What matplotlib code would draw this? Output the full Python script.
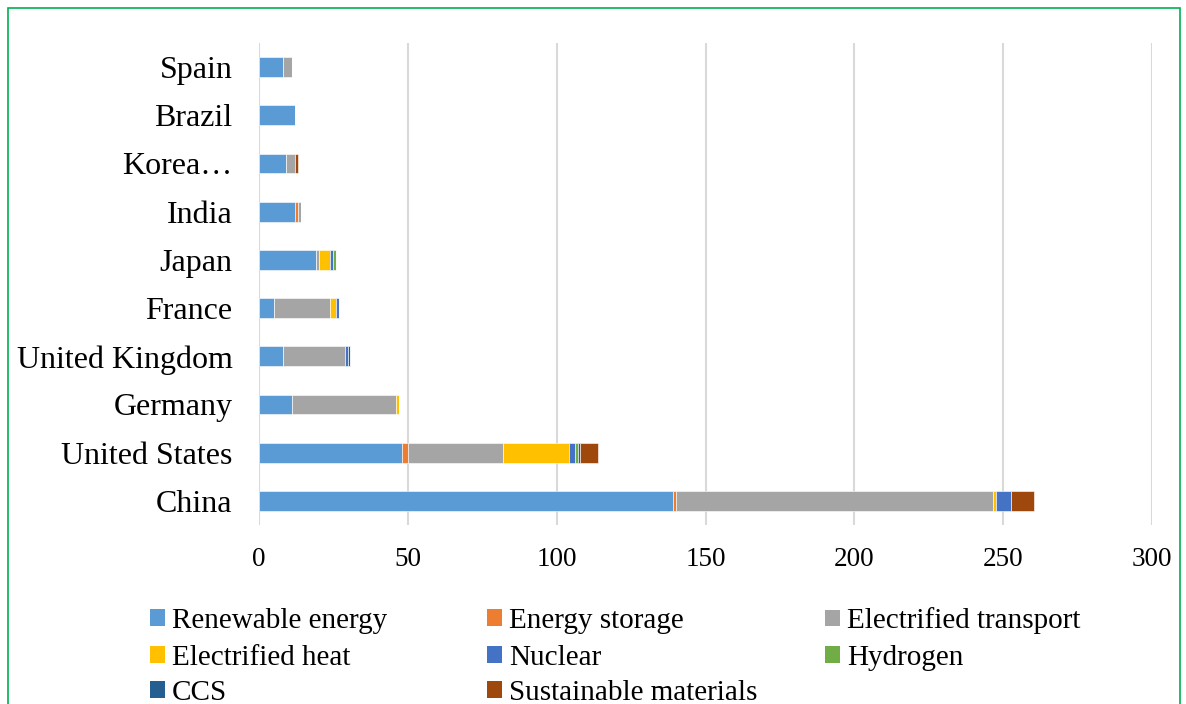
import matplotlib.pyplot as plt
from matplotlib.patches import Rectangle, Patch

plt.rcParams['font.family'] = ['Liberation Serif', 'DejaVu Serif']

# data (bottom to top)
countries = ["China", "United States", "Germany", "United Kingdom", "France",
             "Japan", "India", "Korea…", "Brazil", "Spain"]
renewable = [139, 48, 11, 8, 5, 19, 12, 9, 12, 8]
storage = [1, 2, 0, 0, 0, 0, 1, 0, 0, 0]
transport = [106.5, 32, 35, 21, 19, 1, 1, 3, 0, 3]
heat = [1, 22, 1, 0, 2, 4, 0, 0, 0, 0]
nuclear = [5, 2, 0, 1, 1, 1, 0, 0, 0, 0]
hydrogen = [0, 1.3, 0, 0, 0, 1, 0, 0, 0, 0]
ccs = [0, 0.7, 0, 0.7, 0, 0, 0, 0, 0, 0]
sustainable = [8, 6, 0, 0, 0, 0, 0, 1, 0, 0]

series = [
    ("Renewable energy", renewable, "#5B9BD5"),
    ("Energy storage", storage, "#ED7D31"),
    ("Electrified transport", transport, "#A5A5A5"),
    ("Electrified heat", heat, "#FFC000"),
    ("Nuclear", nuclear, "#4472C4"),
    ("Hydrogen", hydrogen, "#70AD47"),
    ("CCS", ccs, "#255E91"),
    ("Sustainable materials", sustainable, "#9E480E"),
]

fig = plt.figure(figsize=(11.86, 7.04), dpi=100)
ax = fig.add_axes([259/1186, 1 - 525/704, (1152-259)/1186, (525-43)/704])

y = list(range(len(countries)))
left = [0.0] * len(countries)
handles = []
for name, vals, col in series:
    ax.barh(y, vals, left=left, height=0.41, color=col, edgecolor='white', linewidth=0.4, zorder=3)
    left = [l + v for l, v in zip(left, vals)]
    handles.append(Patch(facecolor=col, edgecolor='none'))

ax.set_xlim(0, 300)
ax.set_ylim(-0.5, len(countries) - 0.5)
ax.set_xticks([0, 50, 100, 150, 200, 250, 300])
ax.set_yticks(y)
ax.set_yticklabels(countries, fontsize=23)
ax.tick_params(axis='x', labelsize=19.5, length=0, pad=16)
ax.tick_params(axis='y', length=0, pad=19)
ax.grid(axis='x', color='#D9D9D9', linewidth=1.5, zorder=0)
for s in ax.spines.values():
    s.set_visible(False)

# legend: 3 columns, filled row by row like Excel
col_x = [150, 487, 825]
row_y = [621, 658, 693]
for i, (name, vals, col) in enumerate(series):
    lx = col_x[i % 3] / 1186
    ly = 1 - row_y[i // 3] / 704
    fig.legend([handles[i]], [name], loc='center left', bbox_to_anchor=(lx, ly),
               frameon=False, fontsize=21, handlelength=0.5, handleheight=0.5,
               handletextpad=0.25, borderpad=0, borderaxespad=0)

# green frame
fig.patches.append(Rectangle((8/1186, -0.01), (1180-8)/1186, 1 - 8/704 + 0.01,
                             transform=fig.transFigure, fill=False,
                             edgecolor='#00B050', linewidth=1.2))

fig.savefig("out.png", dpi=100)
